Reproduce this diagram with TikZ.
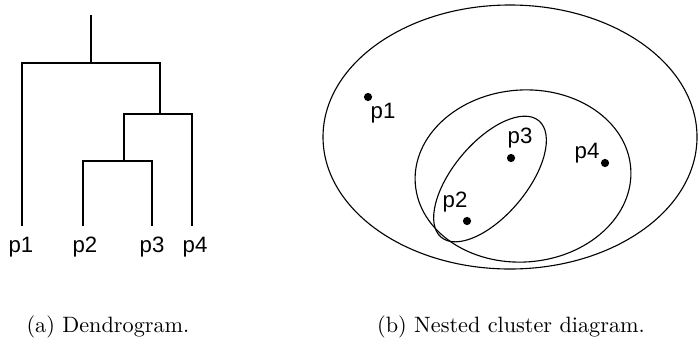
\documentclass[tikz,border=0pt]{standalone}
\usepackage{fontspec}
\newfontfamily\lblfont{Liberation Sans}
\begin{document}
\begin{tikzpicture}[x=0.45pt,y=-0.45pt,
  dend/.style={line width=1.15pt,line cap=butt,line join=miter},
  clus/.style={line width=0.5pt},
  dot/.style={circle,fill=black,inner sep=0pt,minimum size=3.7pt},
  lbl/.style={font=\lblfont\fontsize{10}{12}\selectfont,inner sep=0pt},
  captext/.style={font=\fontsize{10}{12}\selectfont,inner sep=0pt}]
\useasboundingbox (0,0) rectangle (698,339);
% ---- dendrogram ----
\coordinate (root) at (91,15);
\coordinate (j1) at (91,63);
\coordinate (j2) at (160,114);
\coordinate (j3) at (124,161);
\coordinate (l1) at (22,226);
\coordinate (l2) at (83,226);
\coordinate (l3) at (152,226);
\coordinate (l4) at (192,226);
\draw[dend] (root) -- (j1);
\draw[dend] (l1) |- (j1) -| (j2);
\draw[dend] (j3) |- (j2) -| (l4);
\draw[dend] (l2) |- (j3) -| (l3);
\node[lbl] (t1) at (21,247) {p1};
\node[lbl] (t2) at (85,247) {p2};
\node[lbl] (t3) at (152,247) {p3};
\node[lbl] (t4) at (195,247) {p4};
% ---- nested clusters ----
\draw[clus] (510,137) ellipse [x radius=187,y radius=132];
\draw[clus] (523,176) ellipse [x radius=108,y radius=86,rotate=4];
\draw[clus] (490,179) ellipse [x radius=76,y radius=36.7,rotate=50];
\node[dot] (d1) at (368,97) {};
\node[dot] (d2) at (467,221) {};
\node[dot] (d3) at (511,158) {};
\node[dot] (d4) at (605,163) {};
\node[lbl] (n1) at (383,113) {p1};
\node[lbl] (n2) at (455,202) {p2};
\node[lbl] (n3) at (520,138) {p3};
\node[lbl] (n4) at (587,153) {p4};
% ---- captions ----
\node[captext] (ca) at (108,327) {(a) Dendrogram.};
\node[captext] (cb) at (511,327) {(b) Nested cluster diagram.};
\end{tikzpicture}
\end{document}
